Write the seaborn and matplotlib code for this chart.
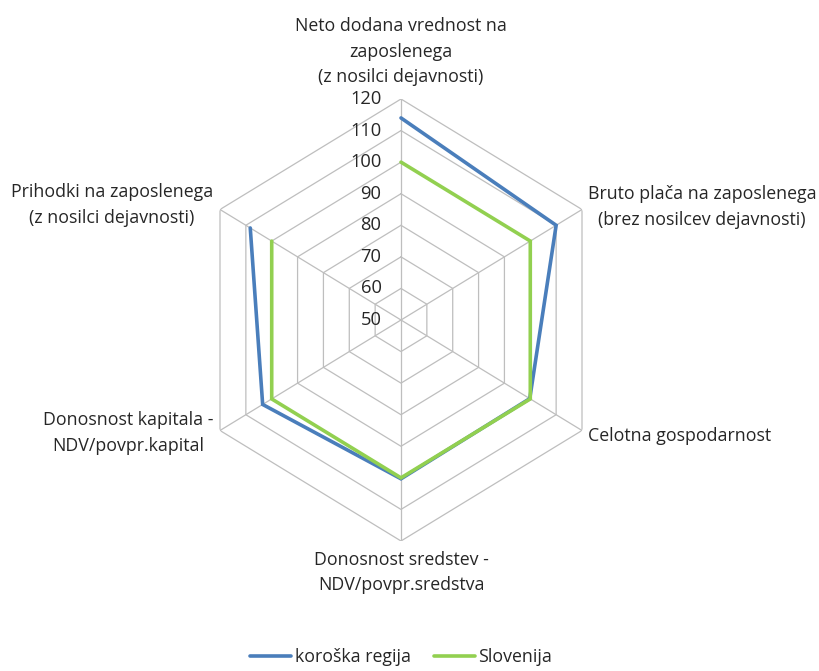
import numpy as np
import pandas as pd
import matplotlib
matplotlib.use("Agg")
import matplotlib.pyplot as plt
import seaborn as sns

categories = [
    "Neto dodana vrednost na\nzaposlenega\n(z nosilci dejavnosti)",
    "Bruto plača na zaposlenega\n(brez nosilcev dejavnosti)",
    "Celotna gospodarnost",
    "Donosnost sredstev -\nNDV/povpr.sredstva",
    "Donosnost kapitala -\nNDV/povpr.kapital",
    "Prihodki na zaposlenega\n(z nosilci dejavnosti)",
]
koroska = [114, 110, 99.8, 100.3, 103.5, 108.3]
slovenija = [100, 100, 100, 100, 100, 100]
series_names = ["koroška regija", "Slovenija"]
ticks = [50, 60, 70, 80, 90, 100, 110, 120]

sns.set_theme(style="white")
plt.rcParams['font.family'] = ['Open Sans', 'DejaVu Sans']

colors = ["#4A7EBB", "#92D050"]
grid_color = "#BEBEBE"
lab_color = "#262626"
fs = 12.8

n = len(categories)
angles = np.linspace(0, 2 * np.pi, n, endpoint=False)
closed_angles = np.append(angles, angles[0])

fig = plt.figure(figsize=(8.19, 6.71), dpi=100)
cx, cy = 401 / 819, 1 - 320 / 671
rx, ry = 209 / 819, 221 / 671
ax = fig.add_axes([cx - rx, cy - ry, 2 * rx, 2 * ry], projection="polar")
ax.set_aspect("auto")
ax.set_theta_zero_location("N")
ax.set_theta_direction(-1)
ax.set_ylim(ticks[0], ticks[-1])
ax.grid(False)
ax.spines["polar"].set_visible(False)
ax.set_xticks([])
ax.set_yticks([])
ax.patch.set_alpha(0)

# hexagonal grid rings
for t in ticks[1:]:
    ax.plot(closed_angles, [t] * (n + 1), color=grid_color, lw=0.9, zorder=1)
# spokes
for a in angles:
    ax.plot([a, a], [ticks[0], ticks[-1]], color=grid_color, lw=0.9, zorder=1)

# data
rows = []
for name, vals in zip(series_names, [koroska, slovenija]):
    for i, (a, v) in enumerate(zip(closed_angles, vals + vals[:1])):
        rows.append({"serie": name, "theta": a, "value": v, "order": i})
df = pd.DataFrame(rows)
for name, col in zip(series_names, colors):
    d = df[df["serie"] == name]
    sns.lineplot(data=d, x="theta", y="value", sort=False, color=col, lw=2.6,
                 ax=ax, label=name, zorder=3 if name == "Slovenija" else 2,
                 solid_joinstyle="miter")

ax.set_xlabel("")
ax.set_ylabel("")

# tick labels along top spoke
for t in ticks:
    ax.annotate(str(t), xy=(0, t), xytext=(-14, 0), textcoords="offset points",
                ha="right", va="center", fontsize=13.2, color=lab_color)

# category labels
specs = [
    dict(xytext=(0, 9), ha="center", va="bottom"),
    dict(xytext=(4, 2), ha="left", va="center"),
    dict(xytext=(4, -4), ha="left", va="center"),
    dict(xytext=(0, -7), ha="center", va="top"),
    dict(xytext=(-5, -2), ha="right", va="center"),
    dict(xytext=(-5, 3), ha="right", va="center"),
]
for a, lab, sp in zip(angles, categories, specs):
    ax.annotate(lab, xy=(a, ticks[-1]), textcoords="offset points",
                multialignment="center", fontsize=fs, color=lab_color,
                linespacing=1.55, annotation_clip=False, **sp)

leg = ax.legend(loc="center", bbox_to_anchor=(401 / 819, 1 - 657 / 671),
                bbox_transform=fig.transFigure, ncol=2, frameon=False,
                fontsize=fs, handlelength=2.3, handletextpad=0.2,
                columnspacing=1.3)
for txt in leg.get_texts():
    txt.set_color(lab_color)

fig.savefig("out.png", dpi=100)
